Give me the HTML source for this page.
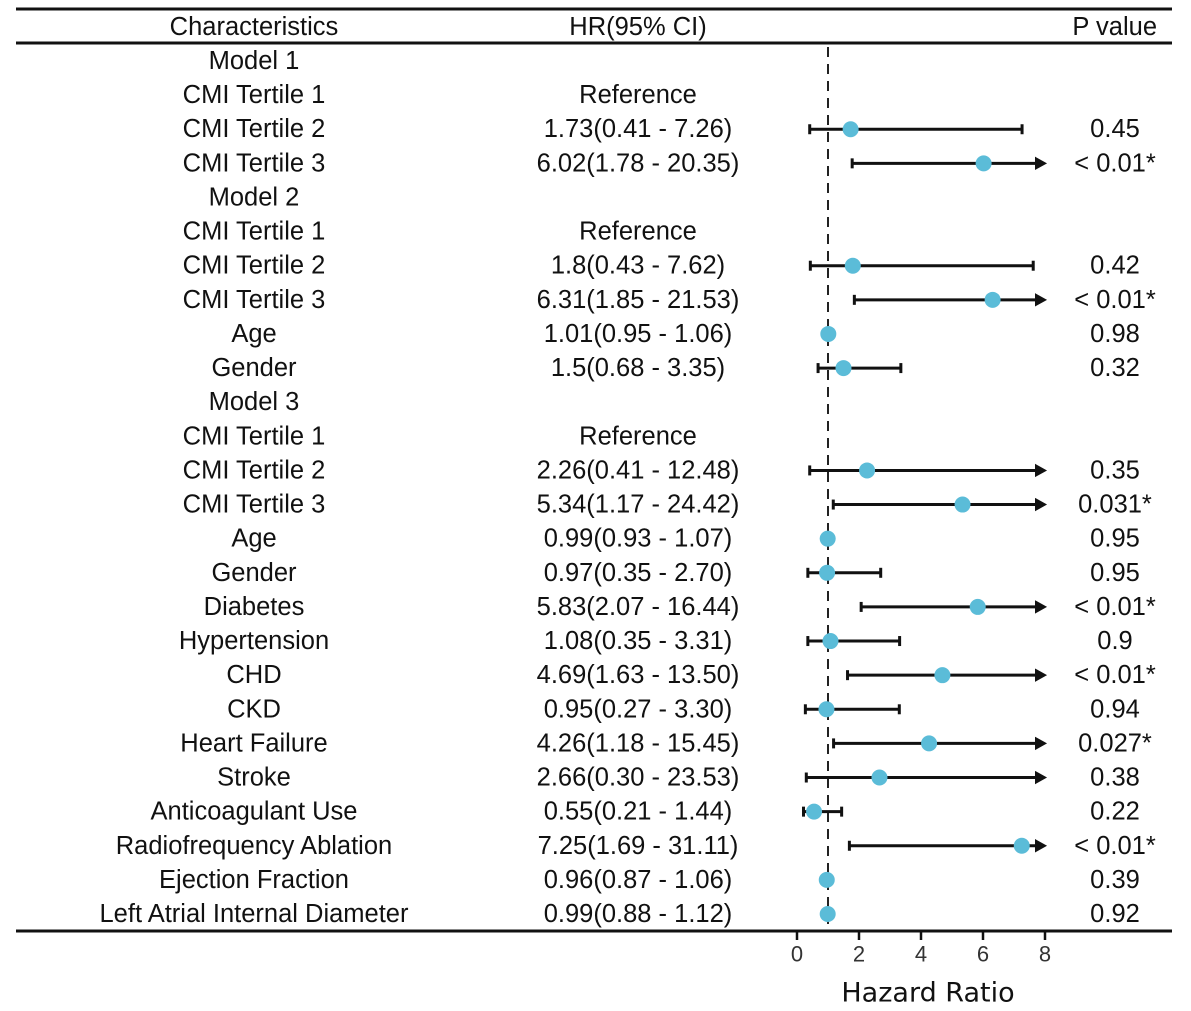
<!DOCTYPE html>
<html><head><meta charset="utf-8"><style>
body{margin:0;background:#fff}
svg text{font-family:"Liberation Sans",sans-serif;font-size:25.5px;fill:#111}
</style></head><body>
<svg id="c" width="1191" height="1006" xmlns="http://www.w3.org/2000/svg"></svg>
<script>
const labels=["Model 1","CMI Tertile 1","CMI Tertile 2","CMI Tertile 3","Model 2","CMI Tertile 1","CMI Tertile 2","CMI Tertile 3","Age","Gender","Model 3","CMI Tertile 1","CMI Tertile 2","CMI Tertile 3","Age","Gender","Diabetes","Hypertension","CHD","CKD","Heart Failure","Stroke","Anticoagulant Use","Radiofrequency Ablation","Ejection Fraction","Left Atrial Internal Diameter"];
const hrText=["","Reference","1.73(0.41 - 7.26)","6.02(1.78 - 20.35)","","Reference","1.8(0.43 - 7.62)","6.31(1.85 - 21.53)","1.01(0.95 - 1.06)","1.5(0.68 - 3.35)","","Reference","2.26(0.41 - 12.48)","5.34(1.17 - 24.42)","0.99(0.93 - 1.07)","0.97(0.35 - 2.70)","5.83(2.07 - 16.44)","1.08(0.35 - 3.31)","4.69(1.63 - 13.50)","0.95(0.27 - 3.30)","4.26(1.18 - 15.45)","2.66(0.30 - 23.53)","0.55(0.21 - 1.44)","7.25(1.69 - 31.11)","0.96(0.87 - 1.06)","0.99(0.88 - 1.12)"];
const hr=[null,null,1.73,6.02,null,null,1.8,6.31,1.01,1.5,null,null,2.26,5.34,0.99,0.97,5.83,1.08,4.69,0.95,4.26,2.66,0.55,7.25,0.96,0.99];
const lo=[null,null,0.41,1.78,null,null,0.43,1.85,0.95,0.68,null,null,0.41,1.17,0.93,0.35,2.07,0.35,1.63,0.27,1.18,0.30,0.21,1.69,0.87,0.88];
const hi=[null,null,7.26,20.35,null,null,7.62,21.53,1.06,3.35,null,null,12.48,24.42,1.07,2.70,16.44,3.31,13.50,3.30,15.45,23.53,1.44,31.11,1.06,1.12];
const pvals=["","","0.45","< 0.01*","","","0.42","< 0.01*","0.98","0.32","","","0.35","0.031*","0.95","0.95","< 0.01*","0.9","< 0.01*","0.94","0.027*","0.38","0.22","< 0.01*","0.39","0.92"];
const ticks=[0,2,4,6,8];
const NS="http://www.w3.org/2000/svg",svg=document.getElementById("c");
const x=v=>797+v*31, y=i=>61+i*34.12, XMAX=8;
function mk(t,a,p){const e=document.createElementNS(NS,t);for(const k in a)e.setAttribute(k,a[k]);(p||svg).appendChild(e);return e;}
function tx(s,xx,yy,anchor,name,extra){const e=mk("text",Object.assign({x:xx,y:yy,"text-anchor":anchor||"middle","dominant-baseline":"central"},extra||{}));e.textContent=s;


return e;}
let l;
l=mk("line",{x1:16,x2:1172,y1:9,y2:9,stroke:"#111","stroke-width":3});


l=mk("line",{x1:16,x2:1172,y1:43,y2:43,stroke:"#111","stroke-width":3});


l=mk("line",{x1:16,x2:1172,y1:931,y2:931,stroke:"#111","stroke-width":3});


tx("Characteristics",254,27,"middle","header-characteristics");
tx("HR(95% CI)",638,27,"middle","header-hr");
tx("P value",1157,27,"end","header-p-value");
l=mk("line",{x1:x(1),x2:x(1),y1:47,y2:930,stroke:"#222","stroke-width":2,"stroke-dasharray":"10,7"});


labels.forEach((s,i)=>{
 tx(s,254,y(i),"middle","row-label");
 if(hrText[i])tx(hrText[i],638,y(i),"middle","hr-text");
 if(pvals[i])tx(pvals[i],1115,y(i),"middle","p-value");
 if(hr[i]!=null){
  const yy=y(i),x1=x(lo[i]),cl=hi[i]>XMAX,x2=x(Math.min(hi[i],XMAX));
  const g=mk("g",{});
  
  
  mk("line",{x1:x1,x2:cl?x2-4:x2,y1:yy,y2:yy,stroke:"#111","stroke-width":3},g);
  mk("line",{x1:x1,x2:x1,y1:yy-5,y2:yy+5,stroke:"#111","stroke-width":3},g);
  if(cl)mk("path",{d:`M${x2-9},${yy-5} L${x2},${yy} L${x2-9},${yy+5} Z`,fill:"#111",stroke:"#111","stroke-width":2},g);
  else mk("line",{x1:x2,x2:x2,y1:yy-5,y2:yy+5,stroke:"#111","stroke-width":3},g);
  const c=mk("circle",{cx:x(hr[i]),cy:yy,r:8,fill:"#5bbcd8"},g);
  
  
 }
});
ticks.forEach(t=>{
 l=mk("line",{x1:x(t),x2:x(t),y1:931,y2:940,stroke:"#111","stroke-width":2.5});
 
 
 tx(String(t),x(t),954,"middle","x-tick-label",{style:"font-size:22px;fill:#333"});
});
tx("Hazard Ratio",928,993,"middle","x-axis-title",{style:"font-size:27px;font-family:'DejaVu Sans',sans-serif"});
</script>
</body></html>
